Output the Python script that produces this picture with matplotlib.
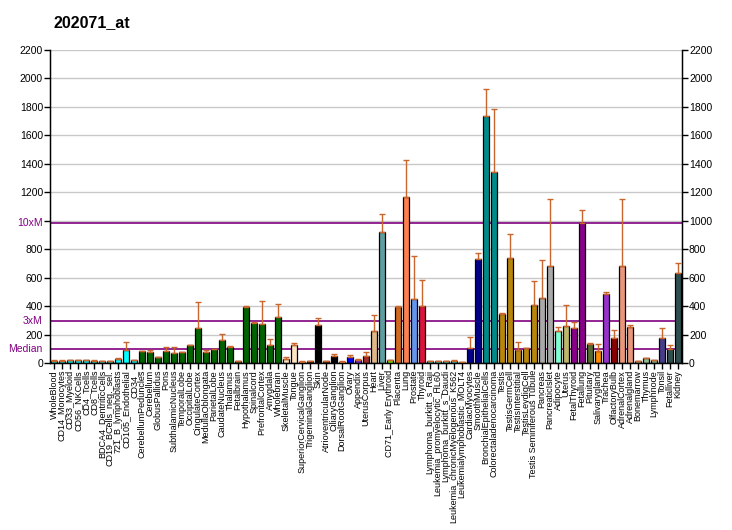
import matplotlib
matplotlib.use("Agg")
import matplotlib.pyplot as plt
import numpy as np

title = "202071_at"
names = ["WholeBlood","CD14_Monocytes","CD33_Myeloid","CD56_NKCells","CD4_Tcells","CD8_Tcells",
         "BDCA4_DentriticCells","CD19_BCells_neg._sel.","721_B_lymphoblasts","CD105_Endothelial","CD34_",
         "CerebellumPeduncles","Cerebellum","GlobusPallidus","Pons","SubthalamicNucleus","TemporalLobe",
         "OccipitalLobe","CingulateCortex","MedullaOblongata","ParietalLobe","CaudateNucleus","Thalamus",
         "Fetalbrain","Hypothalamus","Spinalcord","PrefrontalCortex","Amygdala","Wholebrain",
         "SkeletalMuscle","Tongue","SuperiorCervicalGanglion","TrigeminalGanglion","Skin",
         "AtrioventricularNode","CiliaryGanglion","DorsalRootGanglion","Ovary","Appendix","UterusCorpus",
         "Heart","Liver","CD71_Early Erythroid","Placenta","Lung","Prostate","Thyroid",
         "Lymphoma_burkitt_s_Raji","Leukemia_promyelocytic_HL60","Lymphoma_burkitt_s_Daudi",
         "Leukemia_chronicMyelogenous_K562","Leukemialymphoblastic_MOLT4","CardiacMyocytes","SmoothMuscle",
         "BronchialEpithelialCells","Colorectaladenocarcinoma","Testis","TestisGermCell","TestisInterstitial",
         "TestisLeydigCell","Testis Seminiferous Tubule","Pancreas","PancreaticIslet","Adipocyte","Uterus",
         "FetalThyroid","Fetallung","Pituitary","Salivarygland","Trachea","OlfactoryBulb","AdrenalCortex",
         "Adrenalgland","Bonemarrow","Thymus","Lymphnode","Tonsil","Fetalliver","Kidney"]

values = [14,14,21,21,21,14,12,12,28,91,21,
          84,77,42,84,70,77,127,246,77,98,162,113,14,394,281,274,127,324,
          28,127,7,14,267,14,49,7,42,21,49,225,922,21,394,1168,450,401,
          14,14,14,14,7,106,732,1738,1344,345,739,91,106,408,457,682,225,260,
          246,985,134,84,485,176,682,253,14,35,21,176,98,633]

errors = [7,7,0,0,0,7,0,0,7,57,0,
          0,14,0,29,43,0,0,183,14,0,42,7,0,5,7,162,42,91,
          14,14,7,0,50,0,14,4,14,7,28,113,126,0,7,260,303,183,
          0,0,0,4,0,77,42,190,443,5,169,57,0,169,268,472,28,148,
          42,91,7,50,15,56,472,14,0,0,0,70,29,71]

colors = (["#00FFFF"]*11 + ["#006400"]*18 + ["#FFE4C4"]*2 + ["#000000"]*6 +
          ["#0000FF","#8A2BE2","#A52A2A","#DEB887","#5F9EA0","#7FFF00","#D2691E","#FF7F50",
           "#6495ED","#DC143C"] + ["#00FFFF"]*4 + ["#00008B"]*3 + ["#008B8B"]*2 +
          ["#B8860B"]*5 + ["#A9A9A9"]*2 + ["#7FFFD4","#BDB76B"] + ["#8B008B"]*2 +
          ["#556B2F","#FF8C00","#9932CC","#8B0000"] + ["#E9967A"]*2 + ["#8FBC8F"]*3 +
          ["#483D8B"] + ["#2F4F4F"]*2)

median = 98
m3 = 295
m10 = 983
yticks = [0,200,400,600,800,1000,1200,1400,1600,1800,2000,2200]

plt.rcParams['font.family'] = ['Liberation Sans', 'DejaVu Sans']

W, H = 732, 530
fig = plt.figure(figsize=(W/100, H/100), dpi=100)
ax = fig.add_axes([50/W, (H-363)/H, 632/W, 313/H])

x = np.arange(len(values))
ax.set_xlim(-0.5, len(values)-0.5)
ax.set_ylim(0, 2200)

for t in yticks:
    ax.axhline(t, color="#C8C8C8", lw=1, zorder=0)
for v in (median, m3, m10):
    ax.axhline(v, color="#800080", lw=1.2, zorder=1)

ax.bar(x, values, width=0.75, color=colors[:len(values)], edgecolor="black", linewidth=0.9, zorder=2)
ax.errorbar(x, values, yerr=[np.zeros(len(values)), errors], fmt="none",
            ecolor="#C8662E", elinewidth=1, capsize=2.2, capthick=1, zorder=3)

ax.spines['top'].set_visible(False)
ax.spines['right'].set_visible(True)
for s in ax.spines.values():
    s.set_linewidth(1)

left_labels = []
for t in yticks:
    left_labels.append("" if t == 1000 else str(t))
ax.set_yticks(yticks)
ax.set_yticklabels(left_labels, fontsize=7.5)
ax.tick_params(axis='y', direction='out', length=4, width=1, pad=1)

ax2 = ax.twinx()
ax2.set_ylim(0, 2200)
ax2.set_yticks(yticks)
ax2.set_yticklabels([str(t) for t in yticks], fontsize=7.5)
ax2.tick_params(axis='y', direction='out', length=4, width=1, pad=1)
ax2.spines['top'].set_visible(False)

for v, lab in ((median, "Median"), (m3, "3xM"), (m10, "10xM")):
    ax.text(-0.012, v, lab, transform=ax.get_yaxis_transform(), ha='right', va='center',
            color="#800080", fontsize=7.5)

ax.set_xticks(x)
ax.set_xticklabels(names, rotation=90, fontsize=6.5, va='top', ha='center')
ax.tick_params(axis='x', direction='out', length=4, width=1, pad=1)

fig.text(53/W, 1-27/H, title, fontsize=11.5, fontweight='bold', ha='left', va='baseline')

fig.savefig("out.png", dpi=100)
